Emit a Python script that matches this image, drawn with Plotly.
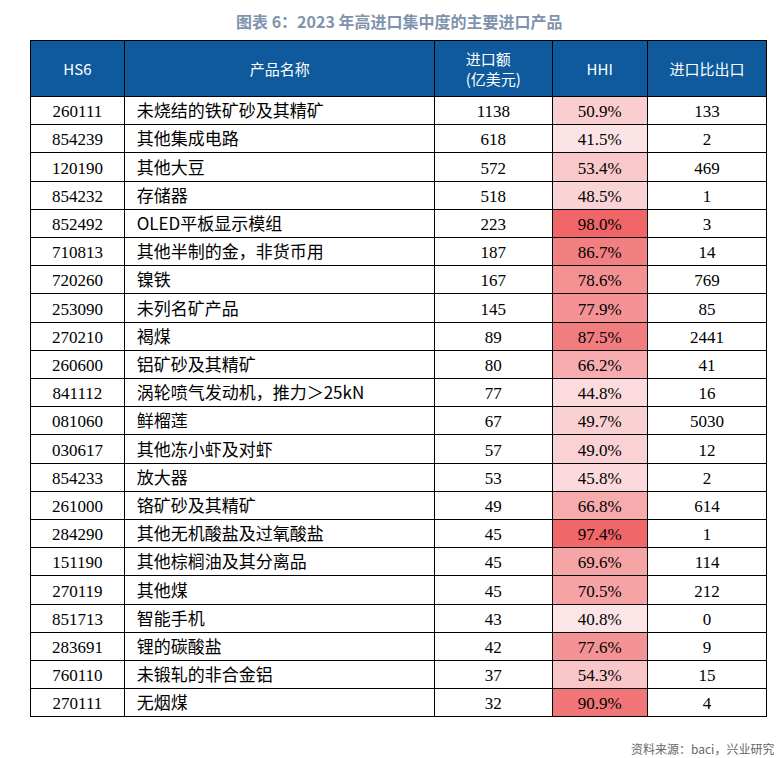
import plotly.graph_objects as go

hs6 = ["260111","854239","120190","854232","852492","710813","720260","253090","270210","260600","841112","081060","030617","854233","261000","284290","151190","270119","851713","283691","760110","270111"]
names = ["未烧结的铁矿砂及其精矿","其他集成电路","其他大豆","存储器","OLED平板显示模组","其他半制的金，非货币用","镍铁","未列名矿产品","褐煤","铝矿砂及其精矿","涡轮喷气发动机，推力＞25kN","鲜榴莲","其他冻小虾及对虾","放大器","铬矿砂及其精矿","其他无机酸盐及过氧酸盐","其他棕榈油及其分离品","其他煤","智能手机","锂的碳酸盐","未锻轧的非合金铝","无烟煤"]
imports = [1138,618,572,518,223,187,167,145,89,80,77,67,57,53,49,45,45,45,43,42,37,32]
hhi = [50.9,41.5,53.4,48.5,98.0,86.7,78.6,77.9,87.5,66.2,44.8,49.7,49.0,45.8,66.8,97.4,69.6,70.5,40.8,77.6,54.3,90.9]
ratio = [133,2,469,1,3,14,769,85,2441,41,16,5030,12,2,614,1,114,212,0,9,15,4]
headers = ["HS6","产品名称","进口额<br>(亿美元)","HHI","进口比出口"]

def shade(v):
    t = (v - 40.0) / 58.0
    lo = (252, 230, 233); hi = (240, 102, 104)
    c = [round(lo[i] + (hi[i] - lo[i]) * t) for i in range(3)]
    return f"rgb({c[0]},{c[1]},{c[2]})"

n = len(hs6)
white = ["white"] * n
hhi_fill = [shade(v) for v in hhi]
names_disp = [" " + s for s in names]
header_disp = [h if "<br>" in h else "<span style='font-size:6px'> </span><br>" + h for h in headers]

fig = go.Figure(go.Table(
    domain=dict(x=[22/782, 760/782], y=[0, 1 - 32/758]),
    columnwidth=[95, 310, 118, 95, 120],
    header=dict(values=header_disp, fill_color="#0E5A9C", line=dict(color="black", width=1),
                font=dict(color="white", size=15, family="Noto Sans CJK SC"),
                align="center", height=40),
    cells=dict(values=[hs6, names_disp, imports, [f"{v:.1f}%" for v in hhi], ratio],
               fill_color=[white, white, white, hhi_fill, white],
               line=dict(color="black", width=1),
               font=dict(color="black", size=17, family=["Liberation Serif", "Noto Sans CJK SC", "Liberation Serif", "Liberation Serif", "Liberation Serif"]),
               align=["center", "left", "center", "center", "center"], height=28.2)
))
fig.add_annotation(text="<b>图表 6：2023 年高进口集中度的主要进口产品</b>", x=0.5, y=1 - 13/758,
                   xref="paper", yref="paper", showarrow=False, yanchor="middle",
                   font=dict(size=16, color="#7F93AD", family="Noto Sans CJK SC"))
fig.add_annotation(text="资料来源：baci，兴业研究", x=768/782, y=1 - 740/758,
                   xref="paper", yref="paper", showarrow=False, xanchor="right", yanchor="middle",
                   font=dict(size=12, color="#666666", family="Noto Sans CJK SC"))
fig.update_layout(width=782, height=758, margin=dict(l=0, r=0, t=0, b=0), paper_bgcolor="white")
fig.write_html("out.html")
